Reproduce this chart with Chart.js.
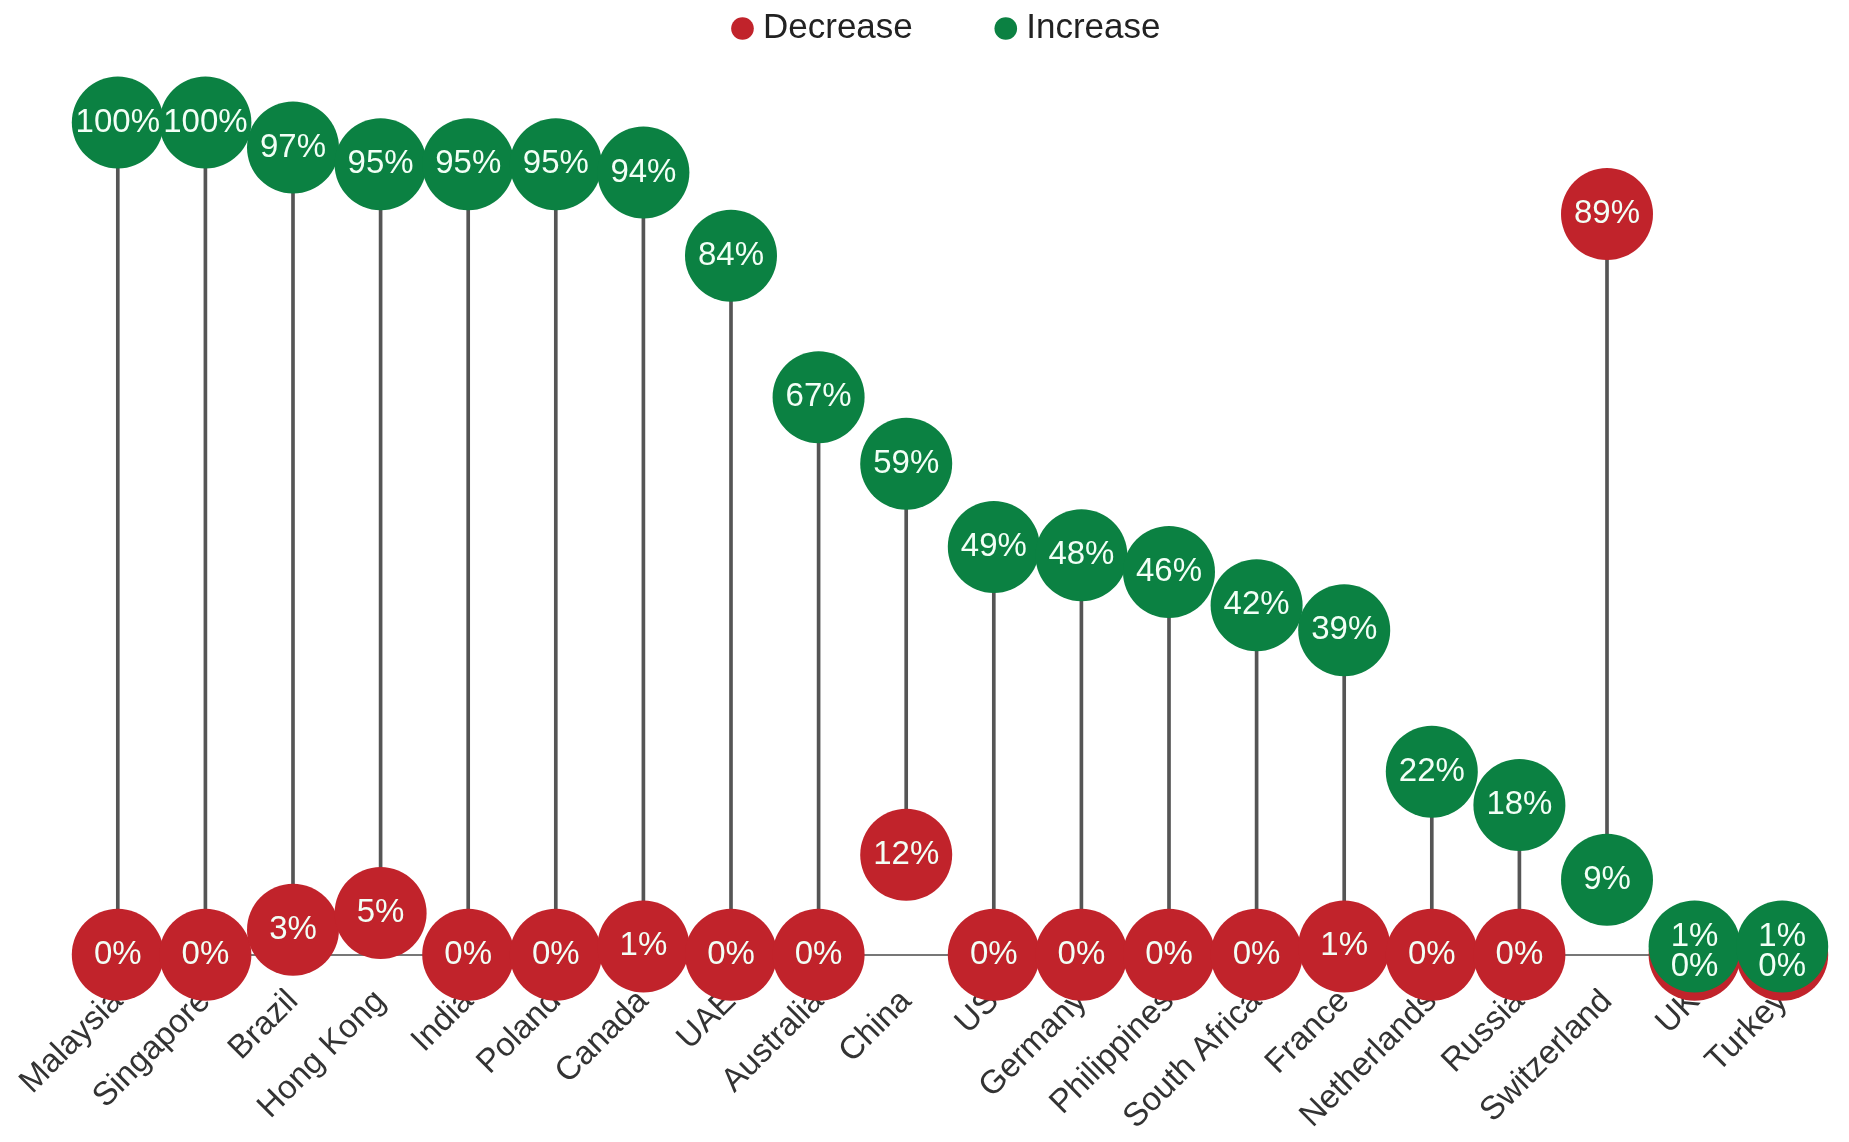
<!DOCTYPE html>
<html>
<head>
<meta charset="utf-8">
<script src="https://cdn.jsdelivr.net/npm/chart.js@4.4.1/dist/chart.umd.min.js"></script>
<style>
  html, body { margin: 0; padding: 0; background: #fff; }
  #wrap { width: 1849px; height: 1142px; }
</style>
</head>
<body>
<div id="wrap"><canvas id="dumbbell"></canvas></div>
<script>
// data
const countries = ['Malaysia', 'Singapore', 'Brazil', 'Hong Kong', 'India', 'Poland', 'Canada', 'UAE',
  'Australia', 'China', 'US', 'Germany', 'Philippines', 'South Africa', 'France', 'Netherlands',
  'Russia', 'Switzerland', 'UK', 'Turkey'];
const decreaseValues = [0, 0, 3, 5, 0, 0, 1, 0, 0, 12, 0, 0, 0, 0, 1, 0, 0, 89, 0, 0];
const increaseValues = [100, 100, 97, 95, 95, 95, 94, 84, 67, 59, 49, 48, 46, 42, 39, 22, 18, 9, 1, 1];

const RED = '#c1232b';
const GREEN = '#0b8142';
const FONT = "'Liberation Sans', Arial, sans-serif";

// stems between the two dots
const stems = decreaseValues.map((d, i) => [d, increaseValues[i]]);

// white % labels inside the circles
const valueLabels = {
  id: 'valueLabels',
  afterDatasetsDraw(chart) {
    const ctx = chart.ctx;
    ctx.save();
    ctx.font = '33px ' + FONT;
    ctx.fillStyle = '#f2fff6';
    ctx.textAlign = 'center';
    ctx.textBaseline = 'middle';
    [1, 2].forEach(di => {
      const meta = chart.getDatasetMeta(di);
      const values = chart.data.datasets[di].data;
      meta.data.forEach((pt, i) => {
        let y = pt.y;
        // close pairs: split the two labels
        if (Math.abs(increaseValues[i] - decreaseValues[i]) < 3) {
          const mid = (chart.getDatasetMeta(1).data[i].y + chart.getDatasetMeta(2).data[i].y) / 2;
          y = di === 2 ? mid - 14 : mid + 16;
        }
        ctx.fillText(values[i] + '%', pt.x, y);
      });
    });
    ctx.restore();
  }
};

const chart = new Chart(document.getElementById('dumbbell'), {
  data: {
    labels: countries,
    datasets: [
      {
        type: 'bar',
        label: 'stem',
        data: stems,
        backgroundColor: '#555555',
        barThickness: 3,
        order: 3
      },
      {
        type: 'line',
        label: 'Decrease',
        data: decreaseValues,
        showLine: false,
        backgroundColor: RED,
        borderColor: RED,
        borderWidth: 0,
        pointRadius: 46,
        pointHoverRadius: 46,
        pointStyle: 'circle',
        order: 2
      },
      {
        type: 'line',
        label: 'Increase',
        data: increaseValues,
        showLine: false,
        backgroundColor: GREEN,
        borderColor: GREEN,
        borderWidth: 0,
        pointRadius: 46,
        pointHoverRadius: 46,
        pointStyle: 'circle',
        order: 1
      }
    ]
  },
  options: {
    responsive: true,
    maintainAspectRatio: false,
    animation: false,
    clip: false,
    layout: { autoPadding: false, padding: { top: -79, left: 74, right: 23, bottom: 0 } },
    plugins: {
      tooltip: { enabled: false },
      legend: {
        position: 'top',
        labels: {
          usePointStyle: true,
          boxWidth: 6,
          boxHeight: 16,
          padding: 90,
          color: '#222',
          font: { family: FONT, size: 35 },
          filter: item => item.datasetIndex > 0,
          sort: (a, b) => a.datasetIndex - b.datasetIndex
        }
      }
    },
    scales: {
      x: {
        offset: true,
        grid: { display: false, drawTicks: false },
        border: { display: false },
        ticks: {
          minRotation: 45,
          maxRotation: 45,
          padding: -6,
          color: '#333',
          font: { family: FONT, size: 33 }
        },
        afterFit: s => {
          s.height = 154;
          s.paddingLeft = 0;
          s.paddingRight = 0;
        }
      },
      y: {
        min: -4,
        max: 108,
        grid: {
          drawTicks: false,
          lineWidth: 2,
          color: c => c.tick.value === 0 ? '#777' : 'rgba(0,0,0,0)'
        },
        border: { display: false },
        ticks: { display: false, stepSize: 1 }
      }
    }
  },
  plugins: [valueLabels]
});
</script>
</body>
</html>
